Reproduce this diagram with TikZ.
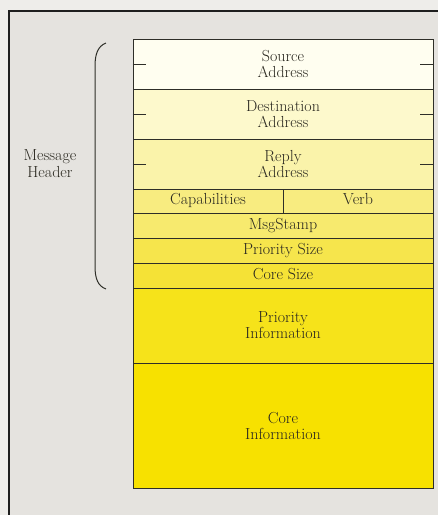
\documentclass[tikz,border=0pt]{standalone}
\usepackage{tikz}
\definecolor{outerbg}{HTML}{EEEDEA}
\definecolor{innerbg}{HTML}{E5E3DF}
\definecolor{frameclr}{HTML}{1E1E1E}
\definecolor{lineclr}{HTML}{2E2E28}
\definecolor{txtclr}{HTML}{2A2820}
\definecolor{cA}{HTML}{FFFEF0}
\definecolor{cB}{HTML}{FDF9CC}
\definecolor{cC}{HTML}{FAF3AA}
\definecolor{cD}{HTML}{F8EC80}
\definecolor{cE}{HTML}{F7EA6E}
\definecolor{cF}{HTML}{F6E54C}
\definecolor{cG}{HTML}{F5E236}
\definecolor{cH}{HTML}{F6E31A}
\definecolor{cI}{HTML}{F7E100}
\tikzset{
  rowbox/.style={draw=lineclr, line width=0.9pt, inner sep=0pt, minimum width=300pt,
    text=txtclr, align=center, font=\fontsize{16}{16}\selectfont},
  halfbox/.style={rowbox, minimum width=150pt},
  oneline/.style={text height=10.5pt, text depth=3.5pt},
  tick/.style={draw=lineclr, line width=0.9pt},
  brace/.style={draw=lineclr, line width=1pt},
  lbl/.style={text=txtclr, align=center, font=\fontsize{16}{17}\selectfont}
}
\begin{document}
\begin{tikzpicture}[x=1pt,y=-1pt]
\useasboundingbox (0,0) rectangle (438,515);
\clip (0,0) rectangle (438,515);
\fill[outerbg] (0,0) rectangle (438,515);
\fill[innerbg] (9,11) rectangle (440,520);
\draw[frameclr, line width=2.4pt] (9,520) -- (9,11) -- (440,11);
% rows
\node[rowbox, fill=cA, minimum height=50pt] (src) at (283,64) {Source\\Address};
\node[rowbox, fill=cB, minimum height=50pt] (dst) at (283,114) {Destination\\Address};
\node[rowbox, fill=cC, minimum height=50pt] (rep) at (283,164) {Reply\\Address};
\node[halfbox, oneline, fill=cD, minimum height=24pt] (cap) at (208,201) {Capabilities};
\node[halfbox, oneline, fill=cD, minimum height=24pt] (verb) at (358,201) {Verb};
\node[rowbox, oneline, fill=cE, minimum height=25pt] (msg) at (283,226) {MsgStamp};
\node[rowbox, oneline, fill=cF, minimum height=25pt] (psz) at (283,251) {Priority Size};
\node[rowbox, oneline, fill=cG, minimum height=25pt] (csz) at (283,276) {Core Size};
\node[rowbox, fill=cH, minimum height=75pt] (pinf) at (283,325.5) {Priority\\Information};
\node[rowbox, fill=cI, minimum height=125pt] (cinf) at (283,425.5) {Core\\Information};
% ticks
\foreach \n in {src,dst,rep}{
  \draw[tick] (\n.west) -- ++(13,0);
  \draw[tick] (\n.east) -- ++(-13,0);
}
% brace
\draw[brace] (106,43) .. controls (98,46) and (95,54) .. (95,66) -- (95,266)
  .. controls (95,279) and (98,286) .. (106,289);
\node[lbl] (hdr) at (50,164) {Message\\Header};
\end{tikzpicture}
\end{document}
